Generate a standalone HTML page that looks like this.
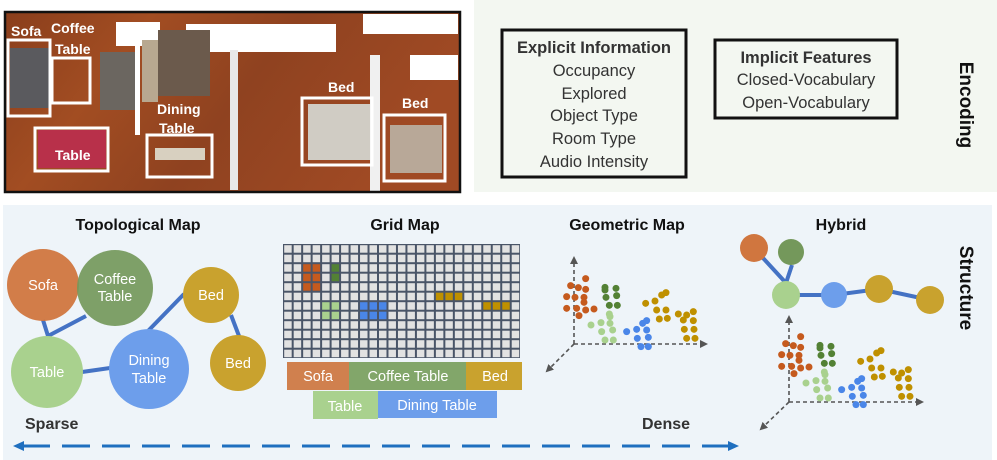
<!DOCTYPE html>
<html><head><meta charset="utf-8"><style>
html,body{margin:0;padding:0;background:#fff;}
svg{display:block;font-family:"Liberation Sans",sans-serif;}
</style></head><body>
<svg width="997" height="460" viewBox="0 0 997 460" xmlns="http://www.w3.org/2000/svg">
<defs>
<linearGradient id="wood" x1="0" y1="0" x2="1" y2="0.3">
<stop offset="0" stop-color="#8a3e1c"/><stop offset="0.3" stop-color="#a24d22"/><stop offset="0.6" stop-color="#8f4220"/><stop offset="1" stop-color="#a04a24"/>
</linearGradient>
<marker id="ag" markerWidth="8" markerHeight="8" refX="6" refY="4" orient="auto" markerUnits="userSpaceOnUse"><path d="M0,0 L8,4 L0,8 z" fill="#555"/></marker>
</defs>

<rect x="474" y="0" width="523" height="192" fill="#f3f7f1"/>
<rect x="502" y="30" width="184" height="147" fill="none" stroke="#111" stroke-width="3"/>
<rect x="715" y="40" width="182" height="78" fill="none" stroke="#111" stroke-width="3"/>
<g fill="#333" font-size="16.5" text-anchor="middle">
<text x="594" y="53" font-weight="bold">Explicit Information</text>
<text x="594" y="76">Occupancy</text>
<text x="594" y="99">Explored</text>
<text x="594" y="121">Object Type</text>
<text x="594" y="144">Room Type</text>
<text x="594" y="167">Audio Intensity</text>
<text x="806" y="63" font-weight="bold">Implicit Features</text>
<text x="806" y="85">Closed-Vocabulary</text>
<text x="806" y="108">Open-Vocabulary</text>
</g>
<text transform="translate(960,105) rotate(90)" text-anchor="middle" font-size="19" font-weight="bold" fill="#111">Encoding</text>

<rect x="5" y="12" width="455" height="180" fill="url(#wood)"/>
<rect x="116" y="22" width="44" height="24" fill="#fff"/>
<rect x="186" y="24" width="150" height="28" fill="#fff"/>
<rect x="363" y="14" width="95" height="20" fill="#fff"/>
<rect x="410" y="55" width="48" height="25" fill="#fff"/>
<rect x="158" y="30" width="52" height="66" fill="#6b5a4c"/>
<rect x="142" y="40" width="16" height="62" fill="#b8a890"/>
<rect x="100" y="52" width="40" height="58" fill="#6b6660"/>
<rect x="10" y="48" width="40" height="60" fill="#5a5a5e"/>
<rect x="135" y="35" width="5" height="100" fill="#fff"/>
<rect x="230" y="50" width="8" height="140" fill="#e8e8e8"/>
<rect x="370" y="55" width="10" height="137" fill="#f0f0f0"/>
<rect x="38" y="130" width="68" height="38" fill="#b8304a"/>
<rect x="155" y="148" width="50" height="12" fill="#d8d0c0"/>
<rect x="308" y="104" width="62" height="56" fill="#d0ccc4"/>
<rect x="390" y="125" width="52" height="48" fill="#b8a898"/>
<g fill="none" stroke="#fff" stroke-width="3">
<rect x="8" y="40" width="42" height="76"/>
<rect x="52" y="58" width="38" height="45"/>
<rect x="35" y="128" width="73" height="43"/>
<rect x="147" y="135" width="65" height="42"/>
<rect x="302" y="98" width="70" height="67"/>
<rect x="384" y="115" width="61" height="66"/>
</g>
<g fill="#fff" font-size="14" font-weight="bold">
<text x="11" y="36">Sofa</text>
<text x="51" y="33">Coffee</text>
<text x="55" y="54">Table</text>
<text x="55" y="160">Table</text>
<text x="157" y="114">Dining</text>
<text x="159" y="133">Table</text>
<text x="328" y="92">Bed</text>
<text x="402" y="108">Bed</text>
</g>
<rect x="5" y="12" width="455" height="180" fill="none" stroke="#111" stroke-width="2.5"/>

<rect x="3" y="205" width="989" height="255" fill="#eef4f9"/>
<g font-size="16" font-weight="bold" fill="#111" text-anchor="middle">
<text x="138" y="230">Topological Map</text>
<text x="405" y="230">Grid Map</text>
<text x="627" y="230">Geometric Map</text>
<text x="841" y="230">Hybrid</text>
</g>
<text transform="translate(960,288) rotate(90)" text-anchor="middle" font-size="19" font-weight="bold" fill="#111">Structure</text>

<g stroke="#4472c4" stroke-width="4" fill="none">
<polyline points="43,320 48,336 86,316"/>
<line x1="82" y1="372" x2="110" y2="368"/>
<line x1="148" y1="331" x2="184" y2="294"/>
<line x1="231" y1="315" x2="239" y2="336"/>
</g>
<circle cx="43" cy="285" r="36" fill="#d0763f" opacity="0.95"/>
<circle cx="115" cy="288" r="38" fill="#74985b" opacity="0.92"/>
<circle cx="47" cy="372" r="36" fill="#a9d18e"/>
<circle cx="149" cy="369" r="40" fill="#6d9eeb"/>
<circle cx="211" cy="295" r="28" fill="#c9a22e"/>
<circle cx="238" cy="363" r="28" fill="#c9a22e"/>
<g fill="#fff" font-size="14.5" text-anchor="middle">
<text x="43" y="290">Sofa</text>
<text x="115" y="284">Coffee</text>
<text x="115" y="301">Table</text>
<text x="47" y="377">Table</text>
<text x="149" y="365">Dining</text>
<text x="149" y="383">Table</text>
<text x="211" y="300">Bed</text>
<text x="238" y="368">Bed</text>
</g>

<rect x="283" y="244" width="237" height="114" fill="#4a5568"/>
<g id="cells"></g>
<rect x="287" y="362" width="62" height="28" fill="#d0804e"/>
<rect x="349" y="362" width="117" height="28" fill="#82a66a"/>
<rect x="466" y="362" width="56" height="28" fill="#c9a22e"/>
<rect x="313" y="391" width="65" height="28" fill="#a9d18e"/>
<rect x="378" y="391" width="119" height="27" fill="#6d9eeb"/>
<g fill="#fff" font-size="14.5" text-anchor="middle">
<text x="318" y="381">Sofa</text>
<text x="408" y="381">Coffee Table</text>
<text x="495" y="381">Bed</text>
<text x="345" y="411">Table</text>
<text x="437" y="410">Dining Table</text>
</g>

<g stroke="#555" stroke-width="1.6" stroke-dasharray="4,3" fill="none">
<line x1="574" y1="344" x2="574" y2="258" marker-end="url(#ag)"/>
<line x1="574" y1="344" x2="706" y2="344" marker-end="url(#ag)"/>
<line x1="574" y1="344" x2="547" y2="371" marker-end="url(#ag)"/>
<line x1="789" y1="402" x2="789" y2="317" marker-end="url(#ag)"/>
<line x1="789" y1="402" x2="922" y2="402" marker-end="url(#ag)"/>
<line x1="789" y1="402" x2="761" y2="429" marker-end="url(#ag)"/>
</g>
<g id="dots1" transform="translate(520,200) scale(0.3333)"></g>
<g id="dots2" transform="translate(735,258) scale(0.3333)"></g>

<g stroke="#4472c4" stroke-width="4" fill="none">
<line x1="763" y1="258" x2="786" y2="283"/>
<line x1="792" y1="265" x2="786" y2="283"/>
<polyline points="786,295 834,295 879,289 930,300"/>
</g>
<circle cx="754" cy="248" r="14" fill="#d0763f"/>
<circle cx="791" cy="252" r="13" fill="#74985b"/>
<circle cx="786" cy="295" r="14" fill="#a9d18e"/>
<circle cx="834" cy="295" r="13" fill="#6d9eeb"/>
<circle cx="879" cy="289" r="14" fill="#c9a22e"/>
<circle cx="930" cy="300" r="14" fill="#c9a22e"/>

<g font-size="16" font-weight="bold" fill="#333">
<text x="25" y="429">Sparse</text>
<text x="642" y="429">Dense</text>
</g>
<line x1="22" y1="446" x2="730" y2="446" stroke="#1f6fbf" stroke-width="3" stroke-dasharray="28,12"/>
<path d="M13,446 L24,441 L24,451 z" fill="#1f6fbf"/>
<path d="M739,446 L728,441 L728,451 z" fill="#1f6fbf"/>
</svg>
<script>
(function(){
var NS="http://www.w3.org/2000/svg";
var g=document.getElementById("cells");
var col={};
function s(c,r,f){col[c+","+r]=f;}
[[2,2],[3,2],[2,3],[3,3],[2,4],[3,4]].forEach(function(p){s(p[0],p[1],"#c55a1e");});
[[5,2],[5,3]].forEach(function(p){s(p[0],p[1],"#538135");});
[[4,6],[5,6],[4,7],[5,7]].forEach(function(p){s(p[0],p[1],"#a9d18e");});
[[8,6],[9,6],[10,6],[8,7],[9,7],[10,7]].forEach(function(p){s(p[0],p[1],"#4a86e8");});
[[16,5],[17,5],[18,5],[21,6],[22,6],[23,6]].forEach(function(p){s(p[0],p[1],"#bf9000");});
var cw=237/25,ch=114/12;
for(var r=0;r<12;r++)for(var c=0;c<25;c++){
var e=document.createElementNS(NS,"rect");
e.setAttribute("x",283+c*cw+1.2);e.setAttribute("y",244+r*ch+1.2);
e.setAttribute("width",cw-2);e.setAttribute("height",ch-2);
e.setAttribute("fill",col[c+","+r]||"#e2e2e2");g.appendChild(e);}
var D={"#c55a1e":[[152,257],[175,263],[197,236],[197,268],[140,290],[165,292],[192,292],[192,307],[140,325],[170,325],[197,330],[222,327],[177,347]],
"#538135":[[255,262],[288,265],[258,292],[290,287],[268,316],[292,316],[255,270]],
"#a9d18e":[[213,375],[243,368],[270,350],[270,370],[245,395],[278,390],[255,420],[280,420],[268,342]],
"#4a86e8":[[320,395],[350,388],[368,370],[380,362],[380,390],[352,415],[385,412],[363,440],[385,440]],
"#bf9000":[[377,310],[405,303],[425,285],[438,278],[410,330],[438,330],[418,357],[442,355],[475,342],[500,345],[520,335],[490,360],[520,362],[493,388],[522,388],[500,415],[525,415]]};
["dots1","dots2"].forEach(function(id){var gg=document.getElementById(id);
for(var k in D)D[k].forEach(function(p){var e=document.createElementNS(NS,"circle");
e.setAttribute("cx",p[0]);e.setAttribute("cy",p[1]);e.setAttribute("r",10.5);e.setAttribute("fill",k);gg.appendChild(e);});});
})();
</script>
</body></html>
